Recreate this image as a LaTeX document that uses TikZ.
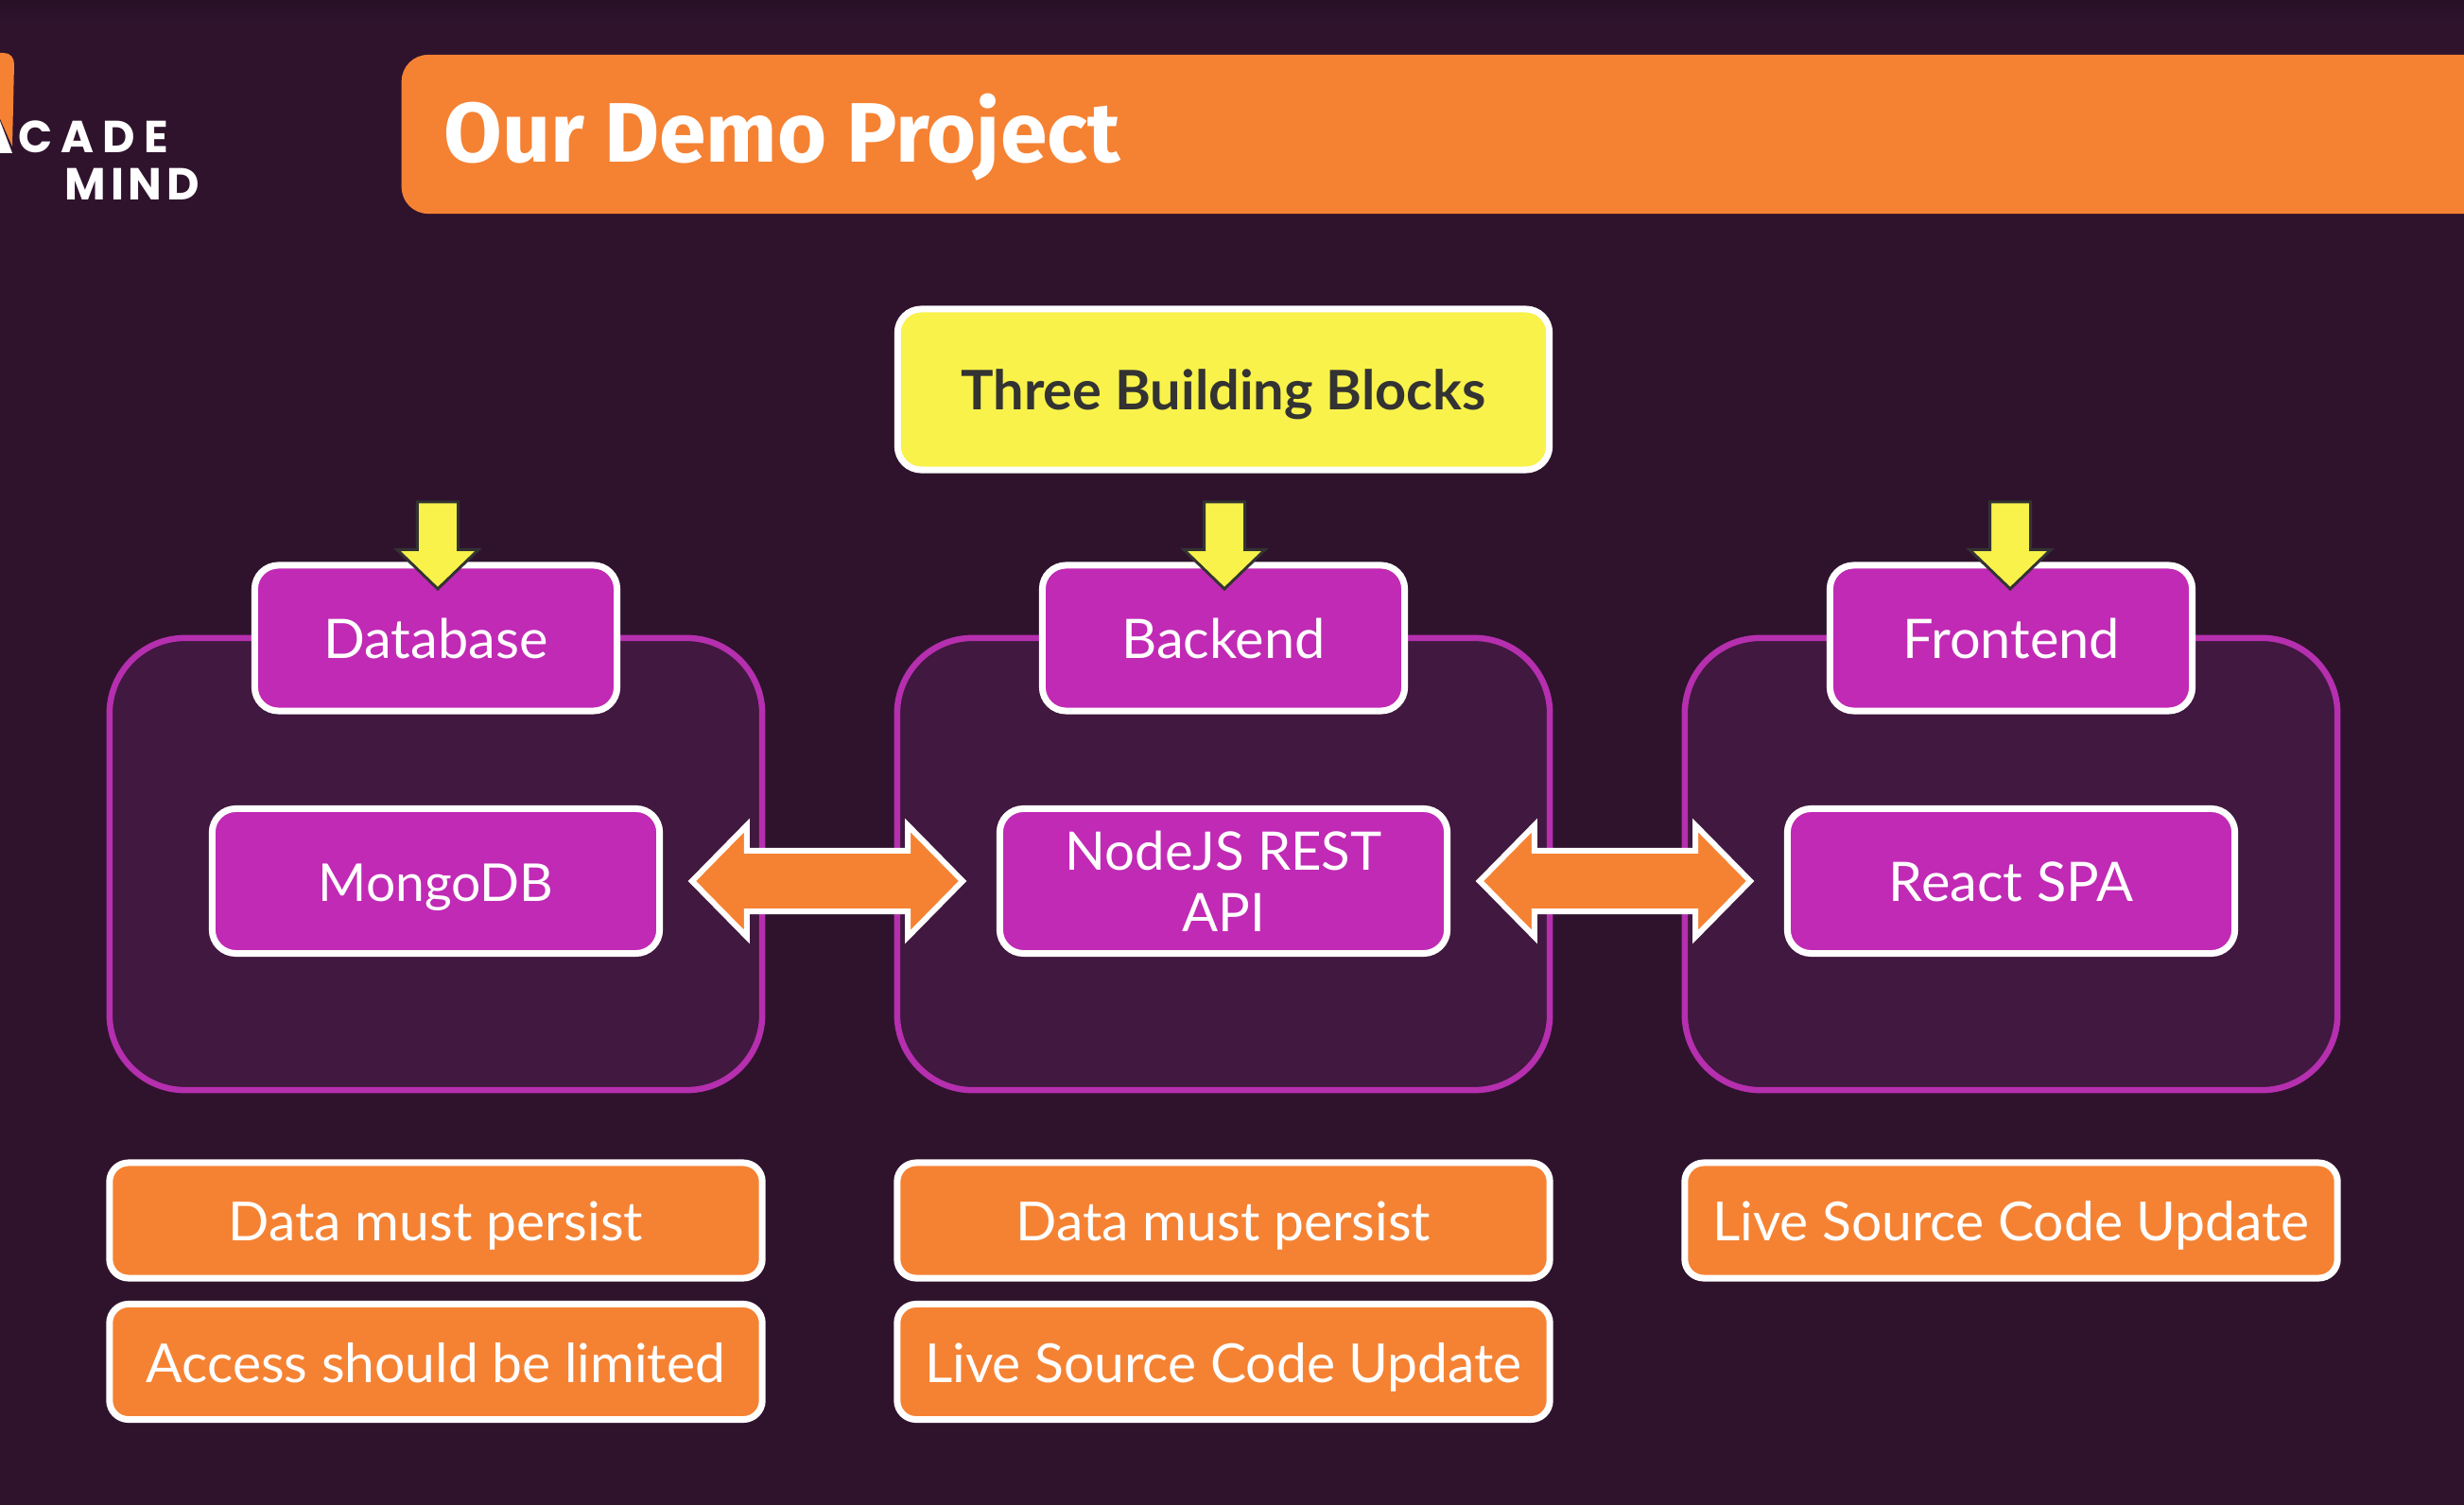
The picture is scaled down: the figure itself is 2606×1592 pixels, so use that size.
\documentclass[tikz,border=0pt]{standalone}
\usepackage{fontspec}
\usetikzlibrary{shapes.arrows,calc}
\setmainfont{Lato}
\newfontfamily\titlefont{Fira Sans}
\newfontfamily\logofont{Poppins}
\definecolor{bgdark}{HTML}{2F132D}
\definecolor{bgtop}{HTML}{271026}
\definecolor{panelfill}{HTML}{41183F}
\definecolor{panelline}{HTML}{B52FAE}
\definecolor{boxmagenta}{HTML}{C12AB5}
\definecolor{boxorange}{HTML}{F58233}
\definecolor{boxyellow}{HTML}{F8F24A}
\definecolor{inkdark}{HTML}{333333}
\tikzset{
  panel/.style={draw=panelline,fill=panelfill,line width=0.065cm,rounded corners=0.8cm,minimum width=6.9cm,minimum height=4.78cm,inner sep=0pt,outer sep=0pt},
  whitebox/.style={draw=white,line width=0.07cm,rounded corners=0.25cm,text=white,align=center,inner sep=0pt,outer sep=0pt,text height=0.43cm,text depth=0cm,font=\fontsize{16.4}{18.5}\selectfont},
  headbox/.style={whitebox,fill=boxmagenta,minimum width=3.83cm,minimum height=1.54cm},
  techbox/.style={whitebox,fill=boxmagenta,minimum width=4.73cm,minimum height=1.53cm},
  notebox/.style={whitebox,fill=boxorange,rounded corners=0.2cm,minimum width=6.9cm,minimum height=1.22cm,font=\fontsize{16.2}{18.5}\selectfont},
  downarrow/.style={shape=single arrow,draw=inkdark,fill=boxyellow,line width=0.03cm,shape border rotate=270,single arrow tip angle=92,single arrow head extend=0.215cm,minimum height=0.92cm,inner sep=0.2cm,outer sep=0pt,anchor=tip},
  bothways/.style={shape=double arrow,draw=white,fill=boxorange,line width=0.06cm,double arrow tip angle=91,double arrow head extend=0.27cm,minimum height=2.86cm,inner sep=0.29cm,outer sep=0pt},
}
\begin{document}
\begin{tikzpicture}[x=0.01cm,y=-0.01cm]
    % Page
    \useasboundingbox (0,0) rectangle (2606,1592);
    \clip (0,0) rectangle (2606,1592);
    \fill[bgdark] (0,0) rectangle (2606,1592);
    \fill[top color=bgtop,bottom color=bgdark] (0,0) rectangle (2606,24);
    % Logo
    \fill[boxorange] (-20,56) -- (4,56) .. controls (11,56) and (15,61) .. (15,68) -- (13,155) -- (-20,80) -- cycle;
    \fill[white] (0,128) -- (13,162) -- (0,162) -- cycle;
    \node[text=white,anchor=base west,inner sep=0pt] (logotop) at (19,162) {\logofont\addfontfeature{LetterSpace=19}\bfseries\fontsize{13.5}{14}\selectfont CADE};
    \node[text=white,anchor=base west,inner sep=0pt] (logobottom) at (68,212) {\logofont\addfontfeature{LetterSpace=10}\bfseries\fontsize{13.5}{14}\selectfont MIND};
    % Title
    \node[fill=boxorange,rounded corners=0.28cm,minimum width=24cm,minimum height=1.68cm,inner sep=0pt,anchor=west] (titlebar) at (424,142) {};
    \node[text=white,anchor=base west,inner sep=0pt] (titletext) at (469,172) {\titlefont\bfseries\fontsize{25.4}{27}\selectfont Our Demo Project};
    % Top block
    \node[whitebox,fill=boxyellow,text=inkdark,minimum width=6.89cm,minimum height=1.7cm] (blocks) at (1294,412) {\bfseries Three Building Blocks};
    % Panels
    \node[panel] (dbpanel) at (461,914) {};
    \node[panel] (apipanel) at (1294,914) {};
    \node[panel] (spapanel) at (2127,914) {};
    % Panel heads
    \node[headbox] (dbhead) at (461,675) {Database};
    \node[headbox] (apihead) at (1294,675) {Backend};
    \node[headbox] (spahead) at (2127,675) {Frontend};
    % Technologies
    \node[techbox,font=\fontsize{15.7}{18.5}\selectfont] (mongo) at (461,932) {MongoDB};
    \node[techbox,text height=,text depth=,font=\fontsize{16}{18.5}\selectfont] (api) at (1294,932) {NodeJS REST\\API};
    \node[techbox] (spa) at (2127,932) {React SPA};
    % Down arrows
    \node[downarrow] (dbdown) at ([shift={(2,25)}]dbhead.north) {};
    \node[downarrow] (apidown) at ([shift={(1,25)}]apihead.north) {};
    \node[downarrow] (spadown) at ([shift={(-1,25)}]spahead.north) {};
    % Double arrows
    \node[bothways] (mongoapi) at ($(mongo)!.5!(api)+(-2.5,0)$) {};
    \node[bothways] (apispa) at ($(api)!.5!(spa)+(-2.5,0)$) {};
    % Notes
    \node[notebox] (dbnotea) at (461,1291) {Data must persist};
    \node[notebox] (dbnoteb) at (461,1440.5) {Access should be limited};
    \node[notebox] (apinotea) at (1294,1291) {Data must persist};
    \node[notebox] (apinoteb) at (1294,1440.5) {Live Source Code Update};
    \node[notebox] (spanotea) at (2127,1291) {Live Source Code Update};
\end{tikzpicture}
\end{document}
